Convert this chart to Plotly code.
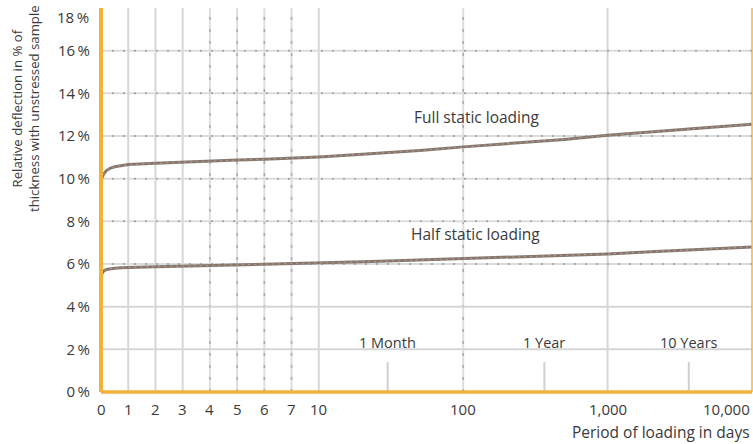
import math
import plotly.graph_objects as go

# ---------------- data ----------------
days = [0, 0.05, 0.1, 0.2, 0.35, 0.5, 0.75, 1, 2, 3, 4, 5, 6, 7, 10, 20, 30, 50,
        100, 200, 365, 500, 1000, 2000, 3650, 5000, 10000]
full_static = [9.93, 10.1, 10.22, 10.38, 10.5, 10.56, 10.62, 10.66, 10.72, 10.78, 10.83,
               10.87, 10.91, 10.95, 11.02, 11.15, 11.22, 11.32, 11.49, 11.63, 11.76,
               11.84, 12.03, 12.2, 12.33, 12.4, 12.55]
half_static = [5.48, 5.6, 5.68, 5.74, 5.78, 5.8, 5.82, 5.84, 5.87, 5.9, 5.93, 5.95, 5.97,
               5.99, 6.04, 6.1, 6.14, 6.19, 6.26, 6.3, 6.36, 6.4, 6.47, 6.57, 6.65, 6.7, 6.8]

x_ticks = [0, 1, 2, 3, 4, 5, 6, 7, 10, 100, 1000, 10000]
x_tick_labels = ["0", "1", "2", "3", "4", "5", "6", "7", "10", "100", "1,000", "10,000"]
y_ticks = [0, 2, 4, 6, 8, 10, 12, 14, 16]
y_top_tick = 18

milestone_names = ["1 Month", "1 Year", "10 Years"]
milestone_days = [30, 365, 3650]
milestone_height = 1.4

solid_vgrid_days = [1, 2, 3, 10, 1000]
dotted_vgrid_days = [4, 5, 6, 7, 100]
solid_hgrid = [2, 4]
dotted_hgrid = [6, 8, 10, 12, 14, 16]

# ---------------- axis transform (linear 0-7, then 10, then log decades) ----------------
DEC = 5.305  # axis units per decade


def xu(d):
    if d <= 7:
        return d
    if d <= 10:
        return 7 + (d - 7) / 3.0
    return 8 + DEC * math.log10(d / 10.0)


XMAX = xu(10000)
FONT = "Open Sans"
TXT = "#3a3a3a"
ORANGE = "#f2b23a"
LINE = "#857870"
PW, PH = 651, 384  # plot area in px
ML, MT = 101, 8

fig = go.Figure()

shapes = []
for d in solid_vgrid_days:
    shapes.append(dict(type="line", xref="x", yref="y", x0=xu(d), x1=xu(d), y0=0, y1=18,
                       line=dict(color="#d6d6d6", width=2), layer="below"))
for d in dotted_vgrid_days:
    shapes.append(dict(type="line", xref="x", yref="y", x0=xu(d), x1=xu(d), y0=0, y1=18,
                       line=dict(color="#dedede", width=2), layer="below"))
    shapes.append(dict(type="line", xref="x", yref="y", x0=xu(d), x1=xu(d), y0=0, y1=18,
                       line=dict(color="#aaaaaa", width=1.5, dash="3px,9px"), layer="below"))
for v in solid_hgrid:
    shapes.append(dict(type="line", xref="x", yref="y", x0=0, x1=XMAX, y0=v, y1=v,
                       line=dict(color="#d6d6d6", width=2), layer="below"))
for v in dotted_hgrid:
    shapes.append(dict(type="line", xref="x", yref="y", x0=0, x1=XMAX, y0=v, y1=v,
                       line=dict(color="#dcdcdc", width=2), layer="below"))
    shapes.append(dict(type="line", xref="x", yref="y", x0=0, x1=XMAX, y0=v, y1=v,
                       line=dict(color="#9a9a9a", width=1.5, dash="2px,9px"), layer="below"))

for d in milestone_days:
    shapes.append(dict(type="line", xref="x", yref="y", x0=xu(d), x1=xu(d), y0=0,
                       y1=milestone_height, line=dict(color="#cfcfcf", width=2), layer="below"))

shapes.append(dict(type="line", xref="paper", yref="paper", x0=0, x1=1, y0=0, y1=0,
                   line=dict(color=ORANGE, width=3.5)))
shapes.append(dict(type="line", xref="paper", yref="paper", x0=0, x1=0, y0=0, y1=1.0,
                   line=dict(color=ORANGE, width=4)))
shapes.append(dict(type="line", xref="paper", yref="paper", x0=1, x1=1, y0=0, y1=1.0,
                   line=dict(color=ORANGE, width=1.5)))

xs = [xu(d) for d in days]
for ys in (full_static, half_static):
    fig.add_trace(go.Scatter(x=xs, y=ys, mode="lines", line=dict(color=LINE, width=3),
                             hoverinfo="skip", showlegend=False))
    fig.add_trace(go.Scatter(x=xs, y=ys, mode="lines",
                             line=dict(color="#c49a8a", width=1, dash="2px,4px"),
                             hoverinfo="skip", showlegend=False))

annotations = []
for d, lab in zip(x_ticks, x_tick_labels):
    anchor = "right" if d == 10000 else "center"
    annotations.append(dict(x=xu(d), y=0, xref="x", yref="y", text=lab, showarrow=False,
                            xanchor=anchor, yanchor="top", yshift=-5,
                            font=dict(family=FONT, size=15, color=TXT)))
annotations.append(dict(x=0, y=y_top_tick, xref="paper", yref="y", text=f"{y_top_tick}\u2009%",
                        showarrow=False, xanchor="right", yanchor="middle", xshift=-10,
                        yshift=-9, font=dict(family=FONT, size=15, color=TXT)))
for name, d in zip(milestone_names, milestone_days):
    annotations.append(dict(x=xu(d), y=2.3, xref="x", yref="y", text=name, showarrow=False,
                            xanchor="center", yanchor="middle",
                            font=dict(family=FONT, size=14.5, color=TXT)))
annotations.append(dict(x=xu(44), y=12.3, xref="x", yref="y", text="Full static loading",
                        showarrow=False, xanchor="left", yanchor="bottom",
                        font=dict(family=FONT, size=15.5, color=TXT)))
annotations.append(dict(x=xu(42), y=6.8, xref="x", yref="y", text="Half static loading",
                        showarrow=False, xanchor="left", yanchor="bottom",
                        font=dict(family=FONT, size=15.5, color=TXT)))
annotations.append(dict(x=1, y=-(432 - 392) / PH, xref="paper", yref="paper",
                        text="Period of loading in days", showarrow=False,
                        xanchor="right", yanchor="middle",
                        font=dict(family=FONT, size=15.5, color=TXT)))
annotations.append(dict(x=(25 - ML) / PW, y=(392 - 109) / PH, xref="paper", yref="paper",
                        text="Relative deflection in % of<br>thickness with unstressed sample",
                        showarrow=False, textangle=-90, xanchor="center", yanchor="middle",
                        font=dict(family=FONT, size=13.2, color=TXT)))

fig.update_layout(
    width=753, height=444,
    margin=dict(l=ML, r=1, t=MT, b=52),
    paper_bgcolor="white", plot_bgcolor="white",
    shapes=shapes, annotations=annotations,
    xaxis=dict(range=[0, XMAX], showgrid=False, zeroline=False, showticklabels=False,
               showline=False, fixedrange=True),
    yaxis=dict(range=[0, 18], tickvals=y_ticks, ticktext=[f"{v}\u2009%" for v in y_ticks],
               showgrid=False, zeroline=False, showline=False, ticks="",
               ticklabelstandoff=10,
               tickfont=dict(family=FONT, size=15, color=TXT), fixedrange=True),
)

fig.write_html("out.html", config={"displayModeBar": False, "staticPlot": True},
               post_script="document.body.style.margin='0';"
                           "document.body.style.overflow='hidden';")
